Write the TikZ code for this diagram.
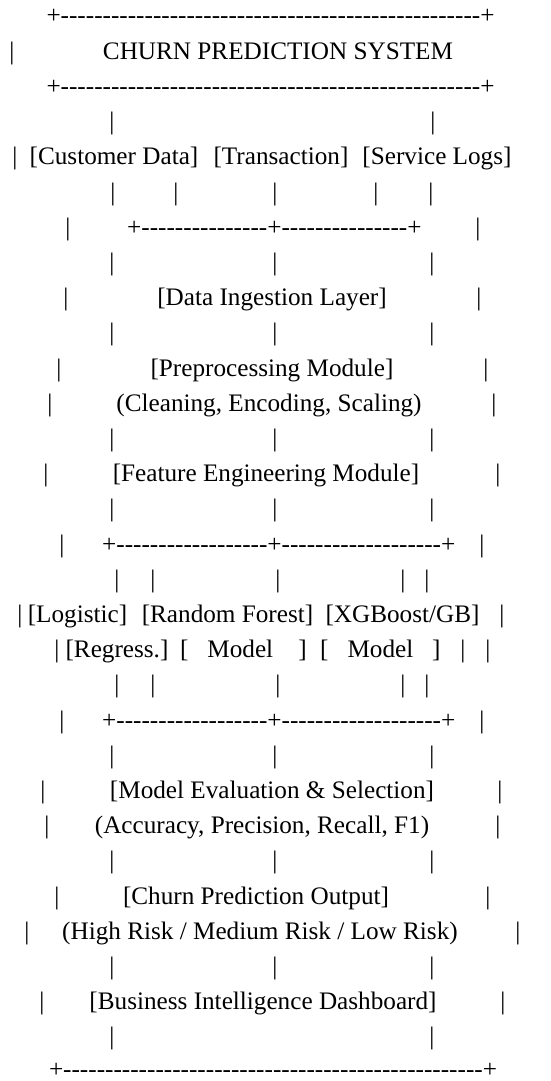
\documentclass[tikz,border=0pt]{standalone}
\usepackage{fontspec}
\newfontfamily\asciifont{Liberation Serif}
\newcommand\dashrun[1]{\foreach\d in {1,...,#1}{-}}

\begin{document}
\begin{tikzpicture}[
  x=1pt, y=-1pt,
  font=\asciifont\fontsize{25.2pt}{30pt}\selectfont,
  glyph/.style={anchor=base, inner sep=0pt, outer sep=0pt},
  rule/.style={glyph, anchor=base west}]
  \useasboundingbox[fill=white] (0,0) rectangle (550,1081);
  % header box
  \node[rule] (top) at (46.5,24) {+\dashrun{50}+};
  \node[glyph] (v2a) at (12,59.2) {|}; \node[glyph] (title) at (278,59.2) {CHURN PREDICTION SYSTEM};
  \node[rule] (head) at (46.5,94.4) {+\dashrun{50}+};
  \node[glyph] (v4a) at (112,129.6) {|}; \node[glyph] (v4b) at (433,129.6) {|};
  % sources
  \node[glyph] (v5a) at (15,164.8) {|};
  \node[glyph] (cust) at (114,164.8) {[Customer Data]};
  \node[glyph] (trans) at (281,164.8) {[Transaction]};
  \node[glyph] (logs) at (437,164.8) {[Service Logs]};
  \node[glyph] (v6a) at (113,200) {|}; \node[glyph] (v6b) at (176,200) {|}; \node[glyph] (v6c) at (275,200) {|};
  \node[glyph] (v6d) at (376,200) {|}; \node[glyph] (v6e) at (431,200) {|};
  \node[glyph] (v7a) at (68,235.2) {|}; \node[rule] (join) at (127.2,235.2) {+\dashrun{15}+\dashrun{15}+}; \node[glyph] (v7b) at (478,235.2) {|};
  \node[glyph] (v8a) at (112,270.4) {|}; \node[glyph] (v8b) at (275,270.4) {|}; \node[glyph] (v8c) at (432,270.4) {|};
  % pipeline
  \node[glyph] (v9a) at (66,305.6) {|}; \node[glyph] (ingest) at (272,305.6) {[Data Ingestion Layer]}; \node[glyph] (v9b) at (479,305.6) {|};
  \node[glyph] (v10a) at (112,340.8) {|}; \node[glyph] (v10b) at (275,340.8) {|}; \node[glyph] (v10c) at (432,340.8) {|};
  \node[glyph] (v11a) at (59,376) {|}; \node[glyph] (prep) at (272,376) {[Preprocessing Module]}; \node[glyph] (v11b) at (486,376) {|};
  \node[glyph] (v12a) at (50,411.2) {|}; \node[glyph] (prepnote) at (269,411.2) {(Cleaning, Encoding, Scaling)}; \node[glyph] (v12b) at (494,411.2) {|};
  \node[glyph] (v13a) at (112,446.4) {|}; \node[glyph] (v13b) at (275,446.4) {|}; \node[glyph] (v13c) at (432,446.4) {|};
  \node[glyph] (v14a) at (46,481.6) {|}; \node[glyph] (feat) at (266,481.6) {[Feature Engineering Module]}; \node[glyph] (v14b) at (498,481.6) {|};
  \node[glyph] (v15a) at (112,516.8) {|}; \node[glyph] (v15b) at (275,516.8) {|}; \node[glyph] (v15c) at (432,516.8) {|};
  % models
  \node[glyph] (v16a) at (62,552) {|}; \node[rule] (fork) at (102.2,552) {+\dashrun{18}+\dashrun{19}+}; \node[glyph] (v16b) at (482,552) {|};
  \node[glyph] (v17a) at (117,587.2) {|}; \node[glyph] (v17b) at (153,587.2) {|}; \node[glyph] (v17c) at (278,587.2) {|};
  \node[glyph] (v17d) at (403,587.2) {|}; \node[glyph] (v17e) at (427,587.2) {|};
  \node[glyph] (v18a) at (20,622.4) {|};
  \node[glyph] (logit) at (77.5,622.4) {[Logistic]};
  \node[glyph] (forest) at (227.5,622.4) {[Random Forest]};
  \node[glyph] (xgb) at (402.5,622.4) {[XGBoost/GB]};
  \node[glyph] (v18b) at (502,622.4) {|};
  \node[glyph] (v19a) at (57,657.6) {|};
  \node[glyph] (regress) at (117,657.6) {[Regress.]};
  \node[glyph] (rfmodel) at (243.5,657.6) {[\ \ \ Model\ \ \ \ ]};
  \node[glyph] (xgbmodel) at (380.4,657.6) {[\ \ \ Model\ \ \ ]};
  \node[glyph] (v19b) at (463,657.6) {|}; \node[glyph] (v19c) at (488,657.6) {|};
  \node[glyph] (v20a) at (117,692.8) {|}; \node[glyph] (v20b) at (153,692.8) {|}; \node[glyph] (v20c) at (278,692.8) {|};
  \node[glyph] (v20d) at (403,692.8) {|}; \node[glyph] (v20e) at (427,692.8) {|};
  \node[glyph] (v21a) at (62,728) {|}; \node[rule] (gather) at (102.2,728) {+\dashrun{18}+\dashrun{19}+}; \node[glyph] (v21b) at (482,728) {|};
  \node[glyph] (v22a) at (112,763.2) {|}; \node[glyph] (v22b) at (275,763.2) {|}; \node[glyph] (v22c) at (432,763.2) {|};
  % evaluation and output
  \node[glyph] (v23a) at (43,798.4) {|}; \node[glyph] (eval) at (272,798.4) {[Model Evaluation \& Selection]}; \node[glyph] (v23b) at (500,798.4) {|};
  \node[glyph] (v24a) at (47,833.6) {|}; \node[glyph] (evalnote) at (262,833.6) {(Accuracy, Precision, Recall, F1)}; \node[glyph] (v24b) at (498,833.6) {|};
  \node[glyph] (v25a) at (112,868.8) {|}; \node[glyph] (v25b) at (275,868.8) {|}; \node[glyph] (v25c) at (432,868.8) {|};
  \node[glyph] (v26a) at (57,904) {|}; \node[glyph] (output) at (256,904) {[Churn Prediction Output]}; \node[glyph] (v26b) at (488,904) {|};
  \node[glyph] (v27a) at (27,939.2) {|}; \node[glyph] (outnote) at (260,939.2) {(High Risk / Medium Risk / Low Risk)}; \node[glyph] (v27b) at (518,939.2) {|};
  \node[glyph] (v28a) at (112,974.4) {|}; \node[glyph] (v28b) at (275,974.4) {|}; \node[glyph] (v28c) at (432,974.4) {|};
  \node[glyph] (v29a) at (42,1009.6) {|}; \node[glyph] (dash) at (263,1009.6) {[Business Intelligence Dashboard]}; \node[glyph] (v29b) at (503,1009.6) {|};
  \node[glyph] (v30a) at (112,1044.8) {|}; \node[glyph] (v30b) at (432,1044.8) {|};
  \node[rule, text depth=0pt] (bottom) at (49,1077) {+\dashrun{50}+};
\end{tikzpicture}
\end{document}
